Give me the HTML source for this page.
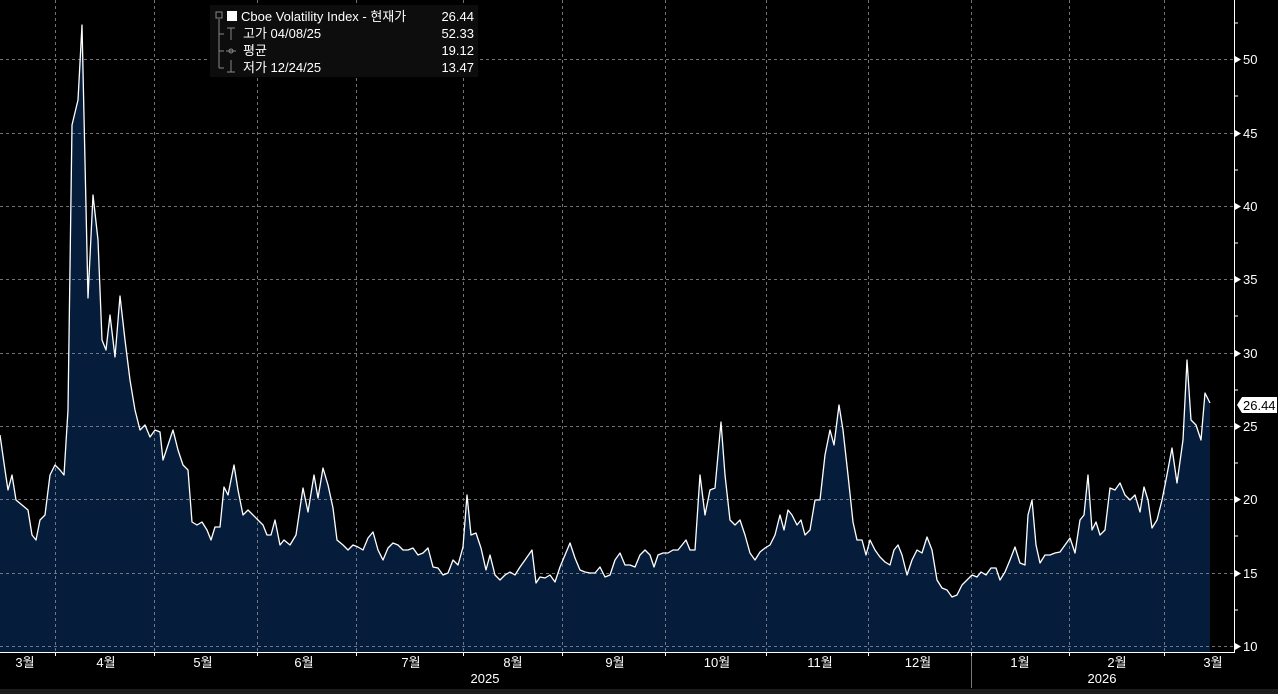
<!DOCTYPE html>
<html><head><meta charset="utf-8"><style>
html,body{margin:0;padding:0;background:#000;}
svg{display:block;font-family:"Liberation Sans","Noto Sans CJK KR",sans-serif;}
</style></head><body>
<svg width="1278" height="694" viewBox="0 0 1278 694" xmlns="http://www.w3.org/2000/svg">
<rect width="1278" height="694" fill="#000"/>
<g id="area">
<polygon fill="#051d3a" points="0,652 0,435 5,470 8,490 12,475 16,500 22,505 28,510 32,535 36,540 40,520 45,515 50,475 55,465 60,470 64,475 68,410 72,125 78,100 82,25 88,298 93,195 98,240 102,340 106,350 110,315 115,357 120,296 125,340 130,380 135,410 140,430 145,425 150,437 155,430 160,432 163,460 168,445 173,430 178,450 183,465 188,470 192,522 197,525 202,522 207,530 211,540 215,527 220,527 224,487 228,495 234,465 238,490 243,515 248,510 253,515 258,520 263,525 267,535 271,535 275,520 280,545 284,540 290,545 296,535 303,488 308,512 314,475 318,498 323,468 328,485 333,508 337,540 343,545 348,550 353,545 358,547 363,550 368,538 373,532 378,550 383,560 388,548 393,543 398,545 403,550 408,550 413,548 418,555 423,553 428,548 433,567 438,568 443,575 448,573 453,560 458,565 463,547 467,495 471,535 476,533 481,548 486,570 490,555 495,575 500,580 505,575 510,572 515,575 520,567 525,560 532,550 536,583 540,577 545,578 550,575 555,582 560,567 565,555 570,543 575,558 580,570 585,572 590,573 595,573 600,567 605,577 610,575 615,560 620,553 625,565 630,565 635,567 640,555 645,550 650,555 654,567 658,555 663,553 668,553 673,550 678,550 682,545 686,540 690,550 695,550 700,475 705,515 710,490 715,488 721,422 725,475 730,520 735,525 740,520 745,535 750,553 755,560 760,552 765,548 770,545 775,535 780,515 784,530 788,510 792,515 797,525 801,520 805,535 810,530 815,500 820,500 825,455 830,430 834,445 839,405 843,430 848,475 853,522 857,540 862,540 866,555 870,540 875,550 880,557 885,562 890,565 894,550 898,545 902,555 907,575 912,560 917,550 922,553 927,537 932,550 937,580 942,588 947,590 952,597 957,595 962,585 967,580 972,575 977,577 981,572 986,575 991,568 996,568 1000,580 1005,572 1010,560 1015,547 1020,563 1025,565 1028,515 1032,500 1036,545 1040,563 1045,555 1050,555 1055,553 1060,552 1065,545 1070,538 1075,553 1080,520 1084,515 1088,475 1092,530 1096,522 1100,535 1105,530 1110,488 1115,490 1120,483 1125,495 1130,500 1135,495 1140,512 1144,487 1148,500 1152,528 1157,520 1162,500 1166,480 1172,448 1177,483 1183,440 1187,360 1191,420 1196,425 1201,440 1205,393 1210,403 1210,652"/>
</g>
<g stroke="#8a8f99" stroke-width="1" stroke-dasharray="3,3" opacity="0.8">
<line x1="0" y1="59.5" x2="1234" y2="59.5"/><line x1="0" y1="133.5" x2="1234" y2="133.5"/>
<line x1="0" y1="206.5" x2="1234" y2="206.5"/><line x1="0" y1="279.5" x2="1234" y2="279.5"/>
<line x1="0" y1="353.5" x2="1234" y2="353.5"/><line x1="0" y1="426.5" x2="1234" y2="426.5"/>
<line x1="0" y1="499.5" x2="1234" y2="499.5"/><line x1="0" y1="573.5" x2="1234" y2="573.5"/>
<line x1="0" y1="646.5" x2="1234" y2="646.5"/>
<line x1="55.5" y1="0" x2="55.5" y2="652"/><line x1="154.5" y1="0" x2="154.5" y2="652"/>
<line x1="257.5" y1="0" x2="257.5" y2="652"/><line x1="356.5" y1="0" x2="356.5" y2="652"/>
<line x1="463.5" y1="0" x2="463.5" y2="652"/><line x1="562.5" y1="0" x2="562.5" y2="652"/>
<line x1="665.5" y1="0" x2="665.5" y2="652"/><line x1="766.5" y1="0" x2="766.5" y2="652"/>
<line x1="868.5" y1="0" x2="868.5" y2="652"/><line x1="971.5" y1="0" x2="971.5" y2="652"/>
<line x1="1069.5" y1="0" x2="1069.5" y2="652"/><line x1="1164.5" y1="0" x2="1164.5" y2="652"/>
</g>
<polyline fill="none" stroke="#fff" stroke-width="1.3" stroke-linejoin="round" points="0,435 5,470 8,490 12,475 16,500 22,505 28,510 32,535 36,540 40,520 45,515 50,475 55,465 60,470 64,475 68,410 72,125 78,100 82,25 88,298 93,195 98,240 102,340 106,350 110,315 115,357 120,296 125,340 130,380 135,410 140,430 145,425 150,437 155,430 160,432 163,460 168,445 173,430 178,450 183,465 188,470 192,522 197,525 202,522 207,530 211,540 215,527 220,527 224,487 228,495 234,465 238,490 243,515 248,510 253,515 258,520 263,525 267,535 271,535 275,520 280,545 284,540 290,545 296,535 303,488 308,512 314,475 318,498 323,468 328,485 333,508 337,540 343,545 348,550 353,545 358,547 363,550 368,538 373,532 378,550 383,560 388,548 393,543 398,545 403,550 408,550 413,548 418,555 423,553 428,548 433,567 438,568 443,575 448,573 453,560 458,565 463,547 467,495 471,535 476,533 481,548 486,570 490,555 495,575 500,580 505,575 510,572 515,575 520,567 525,560 532,550 536,583 540,577 545,578 550,575 555,582 560,567 565,555 570,543 575,558 580,570 585,572 590,573 595,573 600,567 605,577 610,575 615,560 620,553 625,565 630,565 635,567 640,555 645,550 650,555 654,567 658,555 663,553 668,553 673,550 678,550 682,545 686,540 690,550 695,550 700,475 705,515 710,490 715,488 721,422 725,475 730,520 735,525 740,520 745,535 750,553 755,560 760,552 765,548 770,545 775,535 780,515 784,530 788,510 792,515 797,525 801,520 805,535 810,530 815,500 820,500 825,455 830,430 834,445 839,405 843,430 848,475 853,522 857,540 862,540 866,555 870,540 875,550 880,557 885,562 890,565 894,550 898,545 902,555 907,575 912,560 917,550 922,553 927,537 932,550 937,580 942,588 947,590 952,597 957,595 962,585 967,580 972,575 977,577 981,572 986,575 991,568 996,568 1000,580 1005,572 1010,560 1015,547 1020,563 1025,565 1028,515 1032,500 1036,545 1040,563 1045,555 1050,555 1055,553 1060,552 1065,545 1070,538 1075,553 1080,520 1084,515 1088,475 1092,530 1096,522 1100,535 1105,530 1110,488 1115,490 1120,483 1125,495 1130,500 1135,495 1140,512 1144,487 1148,500 1152,528 1157,520 1162,500 1166,480 1172,448 1177,483 1183,440 1187,360 1191,420 1196,425 1201,440 1205,393 1210,403"/>
<!-- axes -->
<line x1="1234.5" y1="0" x2="1234.5" y2="652" stroke="#fff" stroke-width="1"/>
<line x1="0" y1="652.5" x2="1235" y2="652.5" stroke="#fff" stroke-width="1"/>
<g stroke="#fff" stroke-width="1">
<line x1="55.5" y1="652" x2="55.5" y2="656"/><line x1="154.5" y1="652" x2="154.5" y2="656"/>
<line x1="257.5" y1="652" x2="257.5" y2="656"/><line x1="356.5" y1="652" x2="356.5" y2="656"/>
<line x1="463.5" y1="652" x2="463.5" y2="656"/><line x1="562.5" y1="652" x2="562.5" y2="656"/>
<line x1="665.5" y1="652" x2="665.5" y2="656"/><line x1="766.5" y1="652" x2="766.5" y2="656"/>
<line x1="868.5" y1="652" x2="868.5" y2="656"/><line x1="971.5" y1="652" x2="971.5" y2="656"/>
<line x1="1069.5" y1="652" x2="1069.5" y2="656"/><line x1="1164.5" y1="652" x2="1164.5" y2="656"/>
<line x1="1234" y1="23" x2="1238" y2="23"/><line x1="1234" y1="96" x2="1238" y2="96"/>
<line x1="1234" y1="170" x2="1238" y2="170"/><line x1="1234" y1="243" x2="1238" y2="243"/>
<line x1="1234" y1="316" x2="1238" y2="316"/><line x1="1234" y1="390" x2="1238" y2="390"/>
<line x1="1234" y1="463" x2="1238" y2="463"/><line x1="1234" y1="536" x2="1238" y2="536"/>
<line x1="1234" y1="610" x2="1238" y2="610"/>
</g>
<g fill="#fff">
<polygon points="1235,56 1241,59.5 1235,63"/><polygon points="1235,130 1241,133.5 1235,137"/>
<polygon points="1235,203 1241,206.5 1235,210"/><polygon points="1235,276 1241,279.5 1235,283"/>
<polygon points="1235,350 1241,353.5 1235,357"/><polygon points="1235,423 1241,426.5 1235,430"/>
<polygon points="1235,496 1241,499.5 1235,503"/><polygon points="1235,570 1241,573.5 1235,577"/>
<polygon points="1235,643 1241,646.5 1235,650"/>
</g>
<g fill="#fff" font-size="13">
<text x="1243" y="64">50</text><text x="1243" y="138">45</text><text x="1243" y="211">40</text>
<text x="1243" y="284">35</text><text x="1243" y="358">30</text><text x="1243" y="431">25</text>
<text x="1243" y="504">20</text><text x="1243" y="578">15</text><text x="1243" y="651">10</text>
</g>
<polygon points="1237,405 1242,397 1277,397 1277,413 1242,413" fill="#fff"/>
<text x="1243" y="410" font-size="13" fill="#000">26.44</text>
<g fill="#fff" font-size="13" text-anchor="middle">
<text x="25" y="667">3월</text><text x="106" y="667">4월</text><text x="203" y="667">5월</text>
<text x="304" y="667">6월</text><text x="411" y="667">7월</text><text x="513" y="667">8월</text>
<text x="615" y="667">9월</text><text x="717" y="667">10월</text><text x="820" y="667">11월</text>
<text x="918" y="667">12월</text><text x="1020" y="667">1월</text><text x="1117" y="667">2월</text>
<text x="1213" y="667">3월</text>
<text x="485" y="683">2025</text><text x="1102" y="683">2026</text>
</g>
<line x1="971.5" y1="656" x2="971.5" y2="688" stroke="#777"/>
<rect x="0" y="689" width="1278" height="5" fill="#1c1c1c"/>
<!-- legend -->
<rect x="210" y="5" width="268" height="72" fill="#0d0d0d"/>
<g font-size="13" fill="#fff">
<rect x="216" y="12" width="6" height="6" fill="none" stroke="#888"/>
<rect x="227" y="11" width="10" height="10" fill="#fff"/>
<text x="241" y="21">Cboe Volatility Index - 현재가</text><text x="474" y="21" text-anchor="end">26.44</text>
<text x="243" y="38">고가 04/08/25</text><text x="474" y="38" text-anchor="end">52.33</text>
<text x="243" y="55">평균</text><text x="474" y="55" text-anchor="end">19.12</text>
<text x="243" y="72">저가 12/24/25</text><text x="474" y="72" text-anchor="end">13.47</text>
</g>
<g stroke="#888" fill="none">
<path d="M219,19 V68 M219,34 H224 M219,51 H224 M219,68 H224"/>
<path d="M227,28 H235 M231,28 V40"/><path d="M226,51 H236"/><circle cx="231" cy="51" r="2"/>
<path d="M227,72 H235 M231,60 V72"/>
</g>
</svg>
</body></html>
